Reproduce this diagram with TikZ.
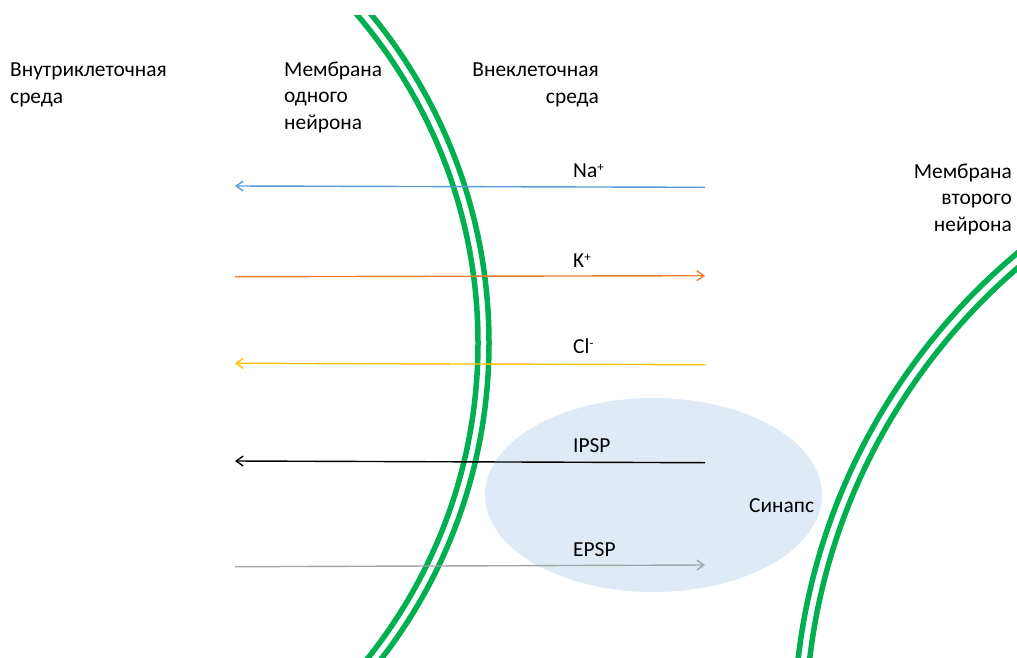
\documentclass[tikz,border=0pt]{standalone}
\usepackage{fontspec}
\setmainfont{Carlito}
\usetikzlibrary{arrows.meta}

\definecolor{membrgreen}{HTML}{00B050}
\definecolor{nablue}{HTML}{5B9BD5}
\definecolor{korange}{HTML}{ED7D31}
\definecolor{clyellow}{HTML}{FFC000}
\definecolor{epspgray}{HTML}{A5A5A5}
\definecolor{synfill}{HTML}{DEEAF6}

\newcommand{\ionsup}[1]{\raisebox{0.28em}{\fontsize{13}{13}\selectfont #1}}

\begin{document}
\begin{tikzpicture}[
  x=1pt, y=-1pt,
  every node/.style={
    inner sep=0pt,
    font=\fontsize{21.4}{26.3}\selectfont
  },
  ion/.style={-{Straight Barb[length=7pt,width=10pt]}, line width=1.4pt},
  membr/.style={draw=membrgreen, line width=5.5pt}
]
\useasboundingbox (0,0) rectangle (1017,657);

% synapse region
\fill[synfill] (653.5,495) ellipse (168.5 and 97);

% membranes
\begin{scope}
  \clip (0,15) rectangle (1017,657);
  \draw[membr] (-28,343) circle (506);
  \draw[membr] (-28,343) circle (517);
  \draw[membr] (1417,731) circle (623);
  \draw[membr] (1417,731) circle (611.5);
\end{scope}

% region labels (base = last line)
\node[anchor=base west, align=left]  (intra)  at (10,103)   {Внутриклеточная\\среда};
\node[anchor=base west, align=left]  (memone) at (284,129)  {Мембрана\\одного\\нейрона};
\node[anchor=base east, align=right] (extra)  at (599,103)  {Внеклеточная\\среда};
\node[anchor=base east, align=right] (memtwo) at (1012,231) {Мембрана\\второго\\нейрона};
\node[anchor=base west] (synapse) at (749,512) {Синапс};

% ion labels
\node[anchor=base west] (na)   at (573,177) {Na\ionsup{+}};
\node[anchor=base west] (k)    at (573,267) {K\ionsup{+}};
\node[anchor=base west] (cl)   at (573,353) {Cl\ionsup{-}};
\node[anchor=base west] (ipsp) at (573,452) {IPSP};
\node[anchor=base west] (epsp) at (573,556) {EPSP};

% currents
\coordinate (na-out)   at (705,187.3);
\coordinate (na-in)    at (235,186);
\coordinate (k-in)     at (235,276.7);
\coordinate (k-out)    at (705,275.7);
\coordinate (cl-out)   at (705,364.7);
\coordinate (cl-in)    at (235,363.3);
\coordinate (ipsp-out) at (705,462.7);
\coordinate (ipsp-in)  at (235,461);
\coordinate (epsp-in)  at (235,566.7);
\coordinate (epsp-out) at (705,565);

\draw[ion, nablue]   (na-out)   -- (na-in);
\draw[ion, korange]  (k-in)     -- (k-out);
\draw[ion, clyellow] (cl-out)   -- (cl-in);
\draw[ion, black]    (ipsp-out) -- (ipsp-in);
\draw[ion, epspgray] (epsp-in)  -- (epsp-out);

\end{tikzpicture}
\end{document}
